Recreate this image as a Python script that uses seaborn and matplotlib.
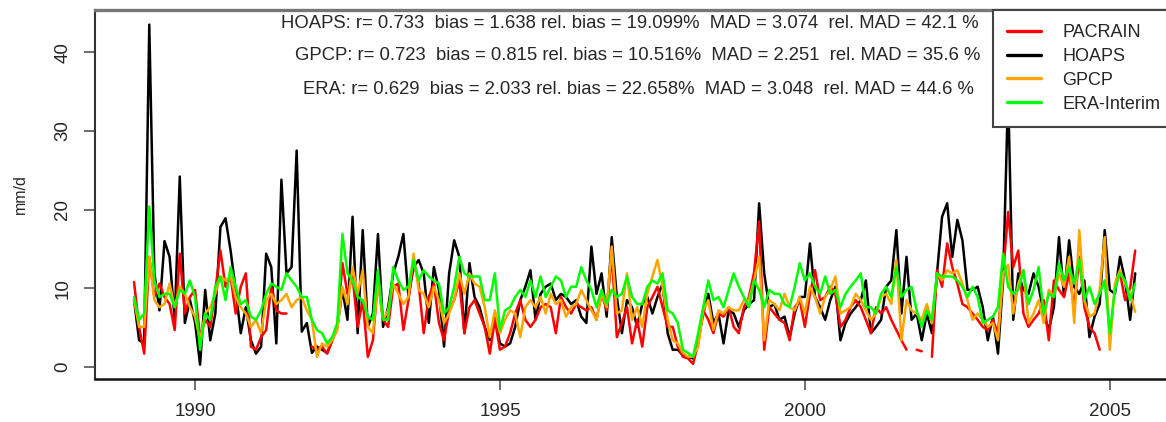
"""
Monthly precipitation time series: PACRAIN vs HOAPS, GPCP and ERA-Interim.
"""

import numpy as np
import pandas as pd
import seaborn as sns
import matplotlib.pyplot as plt
from matplotlib.lines import Line2D


# monthly values starting Jan 1989 (mm/d), NaN = missing month
start_year = 1989

pacrain = [
    10.8, 5.1, 1.7, 14.0, 8.9, 10.6, 8.9, 8.0, 4.7, 14.4, 6.8, 8.9,
    9.8, 3.8, 6.0, 5.1, 9.8, 14.8, 10.2, 11.5, 6.8, 10.2, 11.9, 2.6,
    2.2, 3.8, 4.7, 10.2, 7.2, 6.8, 6.8, np.nan, np.nan, np.nan, np.nan, 2.6,
    2.2, 2.6, 1.7, 3.4, 5.1, 13.2, 9.3, 11.5, 5.1, 8.5, 1.3, 3.4,
    11.0, 6.0, 5.1, 10.2, 10.6, 4.7, 8.5, 13.6, 10.6, 4.3, 8.9, 10.6,
    5.6, 3.4, 7.2, 8.5, 11.0, 4.3, 7.6, 8.5, 6.8, 5.1, 1.7, 6.0,
    2.2, 2.6, 4.3, 6.8, 8.5, 6.0, 5.1, 6.0, 7.6, 8.0, 7.6, 4.3,
    8.9, 7.6, 6.8, 8.0, 7.6, 7.2, 7.6, 6.0, 9.3, 7.2, 14.4, 3.8,
    5.6, 7.6, 3.0, 6.0, 2.6, 7.6, 8.9, 10.2, 7.6, 5.1, 5.1, 2.6,
    1.3, 1.1, 0.4, 3.0, 7.2, 6.0, 4.3, 6.8, 6.4, 7.6, 5.1, 4.3,
    7.6, 8.9, 12.0, 18.5, 2.2, 7.6, 6.8, 6.0, 5.6, 3.4, 7.6, 8.5,
    5.1, 9.3, 12.3, 8.5, 8.9, 10.2, 9.3, 5.1, 6.0, 7.6, 8.5, 7.6,
    6.0, 4.3, 7.6, 6.8, 7.6, 6.0, 4.7, 3.4, 2.2, np.nan, 2.2, 2.0,
    np.nan, 1.3, 12.3, 10.2, 15.7, 12.7, 10.6, 8.0, 7.6, 6.8, 6.0, 5.1,
    4.7, 6.0, 4.3, 11.9, 19.7, 12.7, 14.8, 6.8, 5.1, 6.0, 6.8, 8.5,
    3.4, 11.0, 9.8, 8.9, 11.9, 7.6, 14.0, 7.6, 5.1, 4.3, 2.2, np.nan,
    np.nan, np.nan, 12.0, 8.5, 10.0, 14.8,
]

hoaps = [
    8.5, 3.4, 3.0, 43.5, 12.0, 7.2, 16.0, 14.0, 6.0, 24.2, 5.6, 8.5,
    5.7, 0.3, 9.8, 3.4, 6.8, 17.8, 18.9, 14.8, 9.8, 4.3, 7.6, 3.4,
    1.7, 2.6, 14.4, 12.7, 3.0, 23.8, 11.9, 12.7, 27.5, 4.5, 5.6, 1.8,
    2.6, 2.2, 1.8, 3.4, 5.1, 9.8, 6.0, 19.1, 4.3, 17.4, 5.1, 6.8,
    16.9, 5.1, 7.6, 11.9, 14.0, 16.9, 8.9, 12.7, 13.6, 11.9, 5.6, 12.7,
    9.8, 2.6, 11.9, 16.1, 14.0, 4.3, 13.2, 8.9, 7.6, 5.1, 3.4, 6.4,
    3.0, 2.6, 3.0, 5.1, 8.5, 10.2, 12.3, 6.0, 9.3, 10.2, 10.6, 8.5,
    9.3, 8.9, 8.0, 8.5, 6.4, 5.6, 15.3, 9.3, 11.9, 6.4, 16.5, 8.9,
    4.3, 8.5, 7.6, 5.1, 8.0, 8.9, 6.8, 8.9, 10.6, 4.3, 2.2, 2.2,
    1.5, 1.3, 1.1, 3.4, 6.8, 9.3, 5.6, 6.8, 3.0, 7.2, 6.8, 5.1,
    7.2, 8.0, 8.5, 20.8, 11.9, 7.6, 8.0, 6.0, 6.4, 3.8, 6.8, 8.9,
    8.9, 15.7, 8.9, 7.6, 6.0, 8.5, 10.2, 3.4, 5.6, 6.8, 7.6, 8.5,
    11.0, 4.3, 5.1, 6.0, 10.2, 11.0, 17.4, 6.8, 14.0, 6.0, 6.8, 3.4,
    6.8, 4.3, 11.9, 19.1, 20.8, 14.0, 18.7, 16.1, 9.8, 9.8, 10.2, 7.6,
    3.4, 6.4, 1.7, 11.0, 35.0, 6.0, 11.9, 9.8, 9.3, 11.9, 10.2, 6.8,
    4.7, 7.6, 16.5, 8.9, 16.1, 10.2, 9.3, 11.0, 3.8, 6.4, 8.0, 17.4,
    9.8, 9.3, 14.0, 11.0, 6.0, 11.9,
]

gpcp = [
    8.5, 5.1, 5.1, 14.0, 8.5, 7.6, 8.0, 10.6, 7.6, 10.2, 9.3, 7.6,
    6.4, 3.4, 6.8, 7.6, 9.3, 11.5, 11.0, 11.5, 8.9, 7.6, 6.8, 5.1,
    6.0, 4.3, 8.5, 9.3, 8.0, 8.5, 9.3, 7.6, 8.5, 8.9, 7.2, 6.0,
    1.3, 3.0, 2.6, 3.4, 4.7, 10.2, 8.0, 12.7, 9.3, 12.3, 5.1, 4.3,
    10.6, 6.0, 7.2, 10.6, 9.3, 8.0, 8.9, 14.4, 9.8, 9.3, 7.6, 10.2,
    8.5, 5.6, 6.8, 8.5, 11.9, 9.3, 11.9, 10.6, 10.2, 7.6, 3.8, 7.2,
    4.3, 6.0, 7.2, 6.8, 3.8, 7.6, 8.5, 7.6, 8.9, 6.8, 9.3, 8.0,
    8.5, 6.4, 7.6, 8.0, 9.8, 8.5, 7.2, 6.0, 9.3, 7.6, 15.3, 6.8,
    7.2, 11.9, 6.0, 7.6, 5.1, 9.3, 11.5, 13.6, 10.2, 6.0, 3.4, 3.0,
    1.8, 1.3, 1.3, 2.6, 7.2, 8.5, 4.7, 7.2, 6.8, 7.6, 7.2, 7.2,
    8.5, 8.5, 11.0, 14.0, 3.4, 8.5, 8.0, 7.2, 9.3, 7.6, 7.2, 8.9,
    6.8, 10.2, 8.9, 6.8, 8.9, 9.8, 11.5, 6.8, 7.2, 7.6, 9.3, 8.5,
    7.2, 6.0, 6.8, 8.9, 9.3, 8.0, 13.6, 3.4, 8.5, 7.2, 6.8, 6.0,
    8.0, 5.6, 11.9, 11.0, 12.3, 11.9, 12.3, 10.6, 8.5, 6.0, 6.8, 6.0,
    5.1, 5.6, 3.4, 11.9, 13.0, 6.8, 10.6, 12.3, 5.6, 6.8, 8.5, 5.6,
    9.8, 8.9, 11.9, 10.2, 14.0, 5.6, 17.4, 8.5, 6.4, 6.8, 9.8, 16.5,
    2.2, 10.6, 12.3, 10.6, 9.3, 7.0,
]

era = [
    8.9, 6.0, 6.8, 20.4, 11.0, 8.9, 9.3, 9.3, 7.6, 9.8, 9.3, 11.0,
    8.9, 2.2, 6.8, 6.0, 10.2, 11.5, 8.5, 12.7, 10.2, 8.0, 8.5, 6.4,
    6.0, 7.2, 9.3, 10.6, 10.2, 9.8, 11.9, 11.0, 10.2, 8.9, 8.9, 6.0,
    4.7, 4.3, 3.0, 3.8, 5.6, 16.9, 11.9, 11.0, 8.9, 8.5, 6.4, 6.0,
    12.3, 6.0, 6.0, 12.7, 11.0, 9.8, 10.2, 13.6, 11.0, 12.3, 11.5, 11.0,
    10.6, 6.8, 7.6, 10.2, 14.0, 11.9, 11.5, 11.5, 11.5, 8.5, 8.5, 11.9,
    4.7, 7.2, 7.6, 8.9, 9.8, 8.9, 11.0, 8.9, 11.5, 8.9, 10.2, 11.5,
    11.0, 8.9, 10.2, 10.2, 12.7, 11.0, 9.8, 7.6, 9.8, 8.0, 9.8, 8.9,
    9.3, 11.5, 8.9, 8.0, 8.0, 10.2, 11.0, 10.6, 11.9, 7.2, 6.8, 5.6,
    2.2, 1.8, 1.3, 4.3, 7.6, 11.0, 8.5, 8.9, 7.6, 9.8, 11.9, 10.2,
    8.9, 7.6, 11.0, 9.8, 7.6, 9.8, 9.3, 9.3, 8.0, 7.6, 10.2, 13.2,
    11.0, 11.9, 10.2, 9.3, 11.5, 9.3, 9.8, 7.6, 9.3, 10.2, 11.0, 11.9,
    7.6, 7.6, 6.8, 9.3, 10.2, 8.9, 12.7, 8.9, 9.8, 10.2, 7.2, 5.1,
    7.2, 6.0, 11.9, 11.5, 11.5, 11.5, 11.0, 10.2, 8.9, 10.2, 8.9, 5.6,
    6.0, 6.4, 7.6, 14.4, 10.2, 9.3, 9.8, 12.3, 8.0, 9.8, 12.7, 6.8,
    9.3, 8.9, 13.2, 11.0, 12.7, 10.6, 13.6, 8.5, 10.2, 8.0, 9.3, 11.0,
    4.3, 9.8, 11.9, 11.0, 8.5, 10.6,
]

legend_order = ["PACRAIN", "HOAPS", "GPCP", "ERA-Interim"]
draw_order = ["HOAPS", "PACRAIN", "GPCP", "ERA-Interim"]
colors = {"PACRAIN": "#FF0000", "HOAPS": "#000000",
          "GPCP": "#FFA500", "ERA-Interim": "#00FF00"}

stats_text = [
    "HOAPS: r= 0.733  bias = 1.638 rel. bias = 19.099%  MAD = 3.074  rel. MAD = 42.1 %",
    "GPCP: r= 0.723  bias = 0.815 rel. bias = 10.516%  MAD = 2.251  rel. MAD = 35.6 %",
    "ERA: r= 0.629  bias = 2.033 rel. bias = 22.658%  MAD = 3.048  rel. MAD = 44.6 %",
]
stats_center_px = [630, 638, 638]


def to_long(name, values):
    """
    Long-format frame; each run without gaps gets its own unit id.
    """
    v = np.array(values, dtype=float)
    t = start_year + np.arange(len(v)) / 12.0
    seg = np.cumsum(np.isnan(v))
    df = pd.DataFrame({"year": t, "rain": v, "source": name,
                       "seg": [name + "_" + str(s) for s in seg]})
    return df.dropna(subset=["rain"])


data = pd.concat([to_long("PACRAIN", pacrain), to_long("HOAPS", hoaps),
                  to_long("GPCP", gpcp), to_long("ERA-Interim", era)],
                 ignore_index=True)

sns.set_style("ticks")
plt.rcParams["font.family"] = ["Liberation Sans", "DejaVu Sans"]

W, H = 1166, 422
fig = plt.figure(figsize=(W / 100, H / 100), dpi=100)
ax = fig.add_axes([95 / W, 43 / H, 1077 / W, 369 / H])

sns.lineplot(data=data, x="year", y="rain", hue="source", units="seg",
             estimator=None, hue_order=draw_order, palette=colors,
             linewidth=1.8, legend=False, ax=ax)

ax.set_xlim(1988.36, 2006.02)
ax.set_ylim(-1.52, 45.36)
ax.set_xticks([1990, 1995, 2000, 2005])
ax.set_yticks([0, 10, 20, 30, 40])
ax.tick_params(axis="both", labelsize=13.5, length=8, width=1.2,
               color="#555555", pad=9)
ax.tick_params(axis="y", labelrotation=90)
for lab in ax.get_yticklabels():
    lab.set_va("center")
ax.set_xlabel("")
ax.set_ylabel("mm/d", fontsize=11.5)
ax.yaxis.set_label_coords(-0.062, 0.5)

ax.spines["top"].set_color("#777777")
ax.spines["top"].set_linewidth(2.4)
ax.spines["left"].set_color("#333333")
ax.spines["left"].set_linewidth(1.5)
ax.spines["bottom"].set_color("#111111")
ax.spines["bottom"].set_linewidth(1.8)

# statistics text
for k, line in enumerate(stats_text):
    fig.text(stats_center_px[k] / W, 1 - (23 + 33 * k) / H, line,
             ha="center", va="center", fontsize=13.3)

# legend in the upper right, cut by the figure edge like the original
handles = [Line2D([], [], color=colors[n], linewidth=2.4) for n in legend_order]
leg = fig.legend(handles, legend_order, loc="upper left",
                 bbox_to_anchor=(993 / W, 1 - 10 / H), bbox_transform=fig.transFigure,
                 fontsize=13, frameon=True, fancybox=False, framealpha=1,
                 edgecolor="#444444", borderpad=0.78, labelspacing=0.38,
                 handlelength=1.9, handletextpad=1.15, borderaxespad=0)
leg.get_frame().set_linewidth(1.5)

fig.savefig("out.png", dpi=100)
